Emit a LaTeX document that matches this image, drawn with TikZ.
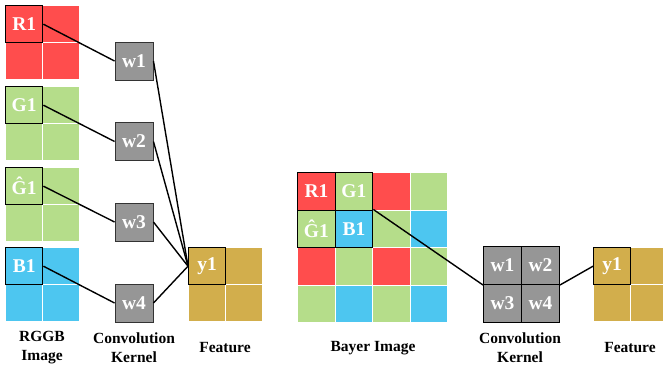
\documentclass[tikz,border=0pt]{standalone}
\usepackage{fontspec}
\setmainfont{Liberation Serif}
\definecolor{cr}{RGB}{255,77,77}
\definecolor{cg}{RGB}{181,221,138}
\definecolor{cb}{RGB}{77,198,240}
\definecolor{cy}{RGB}{210,174,76}
\definecolor{cw}{RGB}{150,150,150}
\begin{document}
\begin{tikzpicture}[x=1pt,y=-1pt,
 cell/.style={fill=#1, draw=white, line width=1.2pt, minimum size=37pt, inner sep=0pt, anchor=north west},
 bcell/.style={fill=#1, draw=white, line width=1.2pt, minimum size=37.5pt, inner sep=0pt, anchor=north west},
 lab/.style={draw=black, line width=1.4pt, minimum size=37pt, inner sep=0pt, anchor=north west, text=white, font=\fontsize{19.5}{19.5}\selectfont\bfseries},
 blab/.style={lab, minimum size=37.5pt},
 wbox/.style={fill=cw, draw=black!80, line width=0.9pt, minimum size=38pt, inner sep=0pt, text=white, font=\fontsize{19.5}{19.5}\selectfont\bfseries},
 kbox/.style={fill=cw, draw=black, line width=1pt, minimum size=38pt, inner sep=0pt, anchor=north west, text=white, font=\fontsize{19.5}{19.5}\selectfont\bfseries},
 conn/.style={line width=1.4pt},
 capt/.style={font=\fontsize{15.5}{19}\selectfont\bfseries, align=center}]
\useasboundingbox (0,0) rectangle (663,366);
\clip (0,0) rectangle (663,366);
% left RGGB blocks
\foreach \n/\c/\yy in {r/cr/5, g/cg/86, h/cg/167, b/cb/247} {
  \node[cell=\c] (\n11) at (5,\yy) {};
  \node[cell=\c] (\n12) at (42,\yy) {};
  \node[cell=\c] (\n21) at (5,\yy+37) {};
  \node[cell=\c] (\n22) at (42,\yy+37) {};
}
\node[lab] (R1) at (5,5) {R1};
\node[lab] (G1) at (5,86) {G1};
\node[lab] (H1) at (5,167) {Ĝ1};
\node[lab] (B1) at (5,247) {B1};
% kernel boxes
\node[wbox] (w1) at (134,61) {w1};
\node[wbox] (w2) at (134,141.5) {w2};
\node[wbox] (w3) at (134,222) {w3};
\node[wbox] (w4) at (134,303) {w4};
% left feature
\node[cell=cy] (f11) at (188,247) {};
\node[cell=cy] (f12) at (225,247) {};
\node[cell=cy] (f21) at (188,284) {};
\node[cell=cy] (f22) at (225,284) {};
\node[lab] (y1) at (188,247) {y1};
% connectors left
\draw[conn] (R1.east) -- (w1.west);
\draw[conn] (G1.east) -- (w2.west);
\draw[conn] (H1.east) -- (w3.west);
\draw[conn] (B1.east) -- (w4.west);
\foreach \w in {w1,w2,w3,w4} \draw[conn] (\w.east) -- (y1.west);
% Bayer image
\foreach \i in {0,1,2,3} {
  \foreach \j in {0,1,2,3} {
    \pgfmathtruncatemacro{\ri}{mod(\i,2)}
    \pgfmathtruncatemacro{\cj}{mod(\j,2)}
    \ifnum\ri=0 \ifnum\cj=0 \def\cc{cr}\else\def\cc{cg}\fi
    \else \ifnum\cj=1 \def\cc{cb}\else\def\cc{cg}\fi\fi
    \node[bcell=\cc] (bay\i\j) at (297+37.5*\j,172+37.5*\i) {};
  }
}
\node[blab] (bR) at (297,172) {R1};
\node[blab] (bG) at (334.5,172) {G1};
\node[blab] (bH) at (297,209.5) {Ĝ1};
\node[blab] (bB) at (334.5,209.5) {B1};
% right kernel
\node[kbox] (k1) at (483,246) {w1};
\node[kbox] (k2) at (521,246) {w2};
\node[kbox] (k3) at (483,284) {w3};
\node[kbox] (k4) at (521,284) {w4};
% right feature
\node[cell=cy] (g11) at (593,247) {};
\node[cell=cy] (g12) at (630,247) {};
\node[cell=cy] (g21) at (593,284) {};
\node[cell=cy] (g22) at (630,284) {};
\node[lab] (y1b) at (593,247) {y1};
\draw[conn] (bB.north east) -- (k1.south west);
\draw[conn] (k2.south east) -- (y1b.west);
% captions
\node[capt] (c1) at (42,347.5) {RGGB\\Image};
\node[capt] (c2) at (134,347.5) {Convolution\\Kernel};
\node[capt] (c3) at (225,348) {Feature};
\node[capt] (c4) at (373,348) {Bayer Image};
\node[capt] (c5) at (520,347.5) {Convolution\\Kernel};
\node[capt] (c6) at (630,348) {Feature};
\end{tikzpicture}
\end{document}
